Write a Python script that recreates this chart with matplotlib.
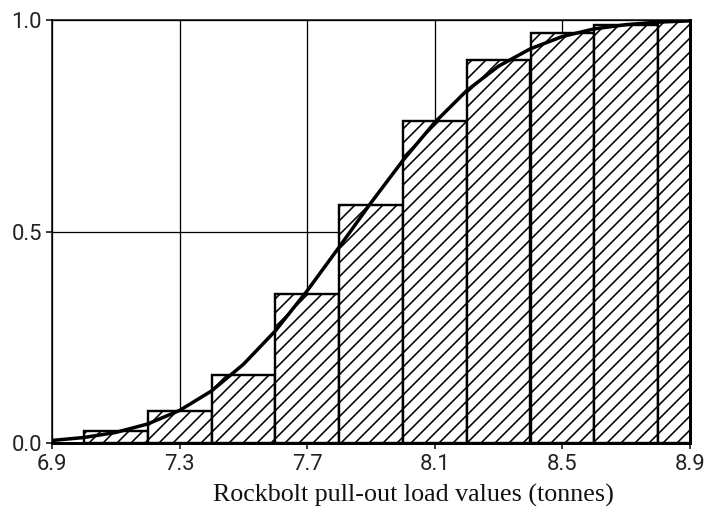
import matplotlib
matplotlib.use('Agg')
import matplotlib.pyplot as plt

DPI = 84


def pt(px):
    return px * 72.0 / DPI


# ---- data ----
bin_left = [7.0, 7.2, 7.4, 7.6, 7.8, 8.0, 8.2, 8.4, 8.6, 8.8]
bin_width = 0.2
cum_freq = [0.029, 0.076, 0.161, 0.352, 0.563, 0.761, 0.905, 0.969, 0.988, 1.0]

curve_x = [6.9, 7.0, 7.1, 7.2, 7.3, 7.4, 7.5, 7.6, 7.7, 7.8, 7.9,
           8.0, 8.1, 8.2, 8.3, 8.4, 8.5, 8.6, 8.7, 8.8, 8.9]
curve_y = [0.006, 0.013, 0.025, 0.045, 0.077, 0.123, 0.186, 0.265, 0.360, 0.463, 0.568,
           0.668, 0.758, 0.833, 0.891, 0.932, 0.961, 0.979, 0.989, 0.995, 0.998]

x_ticks = [6.9, 7.3, 7.7, 8.1, 8.5, 8.9]
x_tick_labels = ['6.9', '7.3', '7.7', '8.1', '8.5', '8.9']
y_ticks = [0.0, 0.5, 1.0]
y_tick_labels = ['0.0', '0.5', '1.0']
x_label = 'Rockbolt pull-out load values (tonnes)'

plt.rcParams['hatch.linewidth'] = pt(1.6)

fig = plt.figure(figsize=(710 / DPI, 525 / DPI), dpi=DPI)
fig.patch.set_facecolor('white')
ax = fig.add_axes([52 / 710, 1 - 443 / 525, (690 - 52) / 710, (443 - 20) / 525])

ax.bar(bin_left, cum_freq, width=bin_width, align='edge', color='white',
       edgecolor='black', linewidth=pt(2.4), hatch='//', zorder=2)
ax.plot(curve_x, curve_y, color='black', lw=pt(3.5), zorder=3,
        solid_capstyle='round', solid_joinstyle='round')

ax.set_xlim(6.9, 8.9)
ax.set_ylim(0, 1)
ax.set_xticks(x_ticks)
ax.set_yticks(y_ticks)
tick_font = ['Roboto', 'DejaVu Sans']
ax.set_xticklabels(x_tick_labels, family=tick_font, fontsize=pt(22), color='#222222')
ax.set_yticklabels(y_tick_labels, family=tick_font, fontsize=pt(22), color='#222222')

ax.set_axisbelow(True)
ax.grid(True, color='black', lw=pt(1.3))

for side, w in [('left', 1.5), ('top', 1.5), ('bottom', 3.0), ('right', 3.0)]:
    ax.spines[side].set_linewidth(pt(w))
    ax.spines[side].set_color('black')

ax.tick_params(axis='both', direction='out', length=pt(6), width=pt(1.5), color='black')
ax.tick_params(axis='y', pad=pt(4))
ax.tick_params(axis='x', pad=pt(5))

fig.text(413 / 710, 1 - 495 / 525, x_label, family=['Liberation Serif', 'DejaVu Serif'],
         fontsize=pt(26), ha='center', va='center', color='#111111')

fig.savefig('out.png', dpi=DPI, facecolor='white')
